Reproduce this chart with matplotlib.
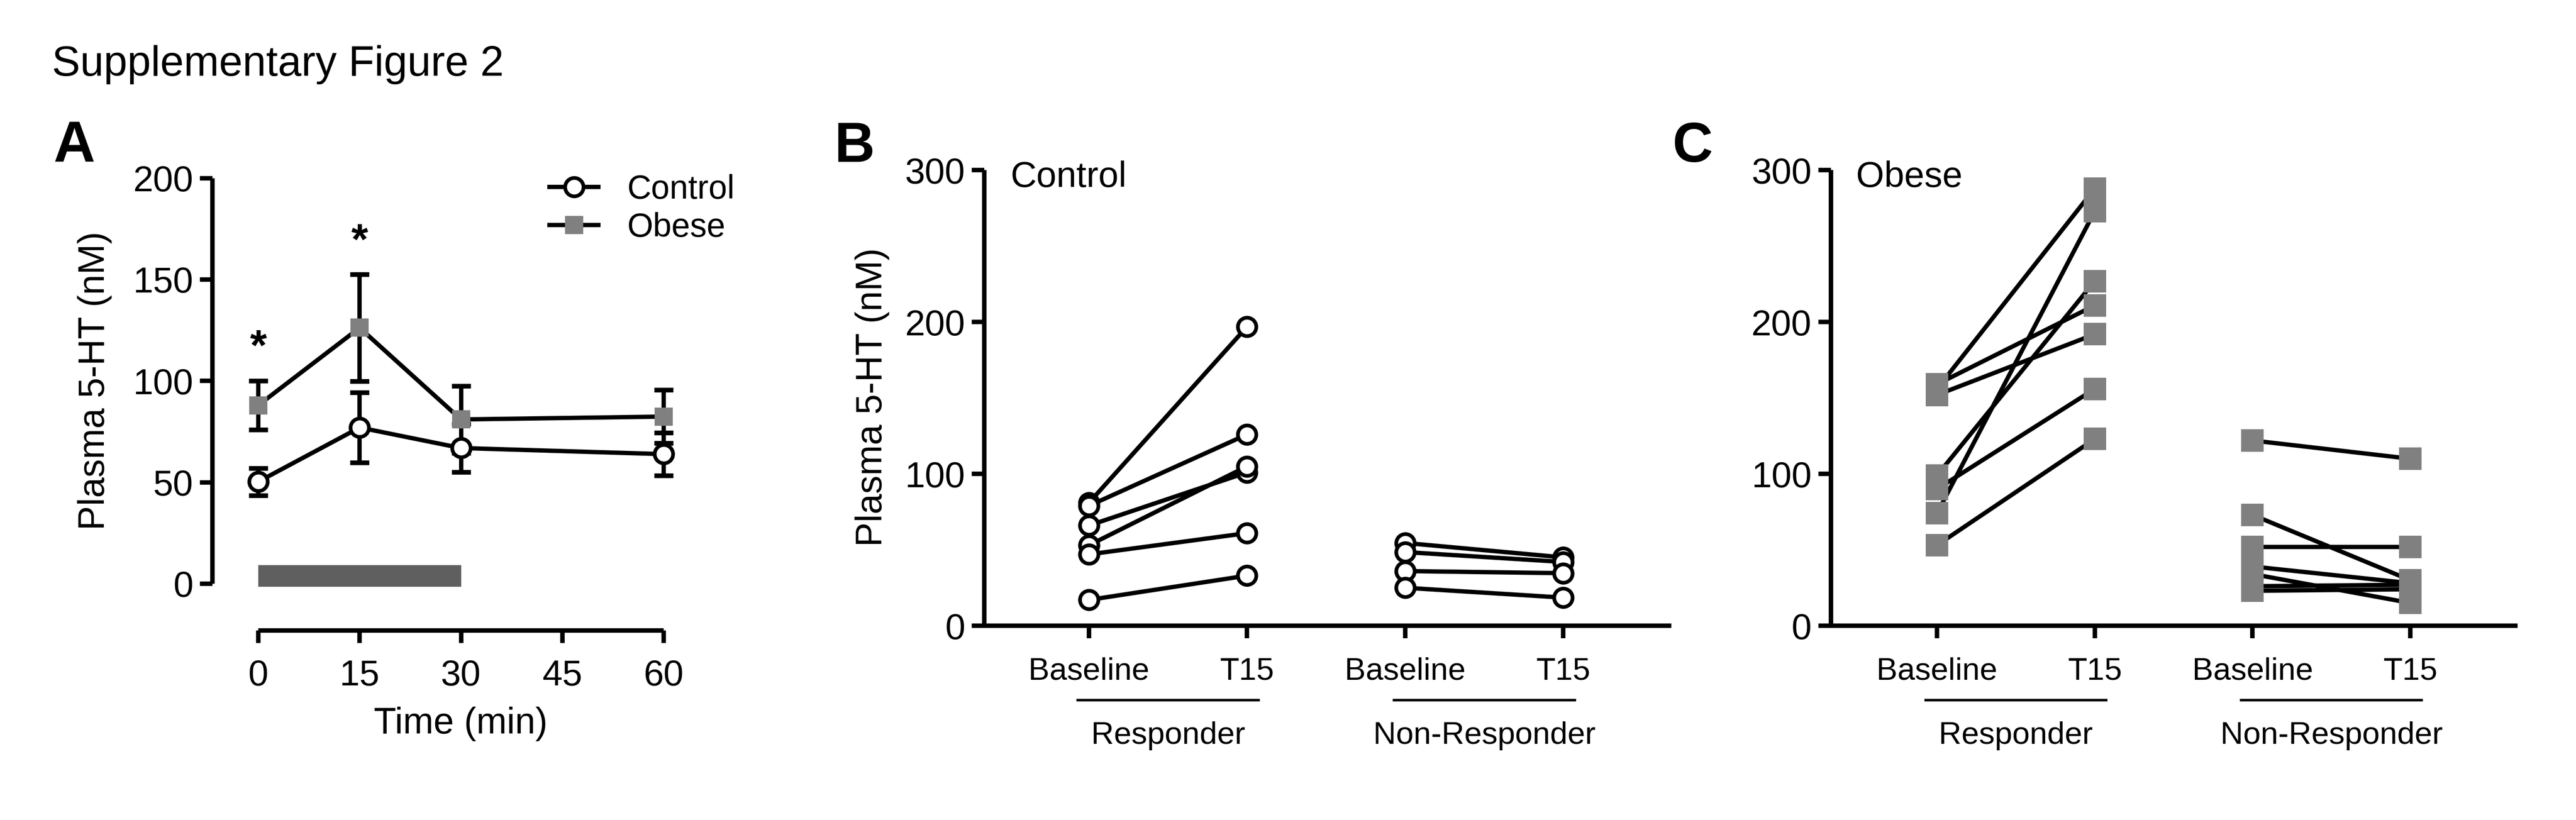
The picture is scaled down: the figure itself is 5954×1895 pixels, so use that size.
import matplotlib
matplotlib.use('Agg')
import matplotlib.pyplot as plt
import numpy as np
from matplotlib.transforms import blended_transform_factory

plt.rcParams['font.family'] = ['Liberation Sans', 'DejaVu Sans']

W, H = 5954, 1895
DPI = 300

# ---------------- data ----------------
# Panel A: time course (mean +/- SEM)
TIME = [0, 15, 30, 60]
CTRL_MEAN = [50.3, 77.0, 66.9, 63.9]
CTRL_SEM = [6.7, 17.3, 11.9, 10.6]
OBESE_MEAN = [88.0, 126.2, 81.0, 82.4]
OBESE_SEM = [12.0, 26.3, 16.6, 13.1]
STAR_TIMES = [0, 15]
STAR_Y = [122.9, 175.0]
STIM_WINDOW = [0, 30]
A_XTICKS = [0, 15, 30, 45, 60]
A_YTICKS = [0, 50, 100, 150, 200]

# Panels B/C: paired individual values
PHASES = ['Baseline', 'T15']
GROUPS = ['Responder', 'Non-Responder']
B_RESP_BASE = [81, 79, 66, 53, 47, 17]
B_RESP_T15 = [197, 126, 101, 105, 61, 33]
B_NONRESP_BASE = [54.5, 48.5, 36, 25]
B_NONRESP_T15 = [45, 42, 34.6, 18.5]
C_RESP_BASE = [156, 159, 152, 99, 74, 90, 53]
C_RESP_T15 = [288, 211, 192, 227, 273, 156, 123]
C_NONRESP_BASE = [122, 73, 52, 39, 34, 26, 23]
C_NONRESP_T15 = [110, 30, 52, 28, 15, 27, 24]
BC_YTICKS = [0, 100, 200, 300]

# ---------------- style ----------------
LW = 2.4
SPW = 2.5
GREY = '#808080'
BAR_GREY = '#5f5f5f'
TICK_FS = 20
LABEL_FS = 20.3
CAT_FS = 17.5


def fx(px):
    return px / W


def fy(py):
    return 1 - py / H


def place_axes(fig, xd0, xp0, xd1, xp1, yd0, yp0, yd1, yp1, xlim, ylim):
    sx = (xp1 - xp0) / (xd1 - xd0)
    sy = (yp1 - yp0) / (yd1 - yd0)
    left = xp0 + (xlim[0] - xd0) * sx
    right = xp0 + (xlim[1] - xd0) * sx
    bottom = yp0 + (ylim[0] - yd0) * sy
    top = yp0 + (ylim[1] - yd0) * sy
    ax = fig.add_axes([left / W, 1 - bottom / H, (right - left) / W, (bottom - top) / H])
    ax.set_xlim(xlim)
    ax.set_ylim(ylim)
    ax.patch.set_alpha(0)
    return ax


def style_axes(ax):
    for s in ['top', 'right']:
        ax.spines[s].set_visible(False)
    for s in ['left', 'bottom']:
        ax.spines[s].set_linewidth(SPW)
        ax.spines[s].set_capstyle('butt')
    ax.tick_params(axis='both', direction='out', length=7, width=SPW, color='black')
    ax.tick_params(axis='y', labelsize=TICK_FS, pad=3.6)


fig = plt.figure(figsize=(W / DPI, H / DPI), dpi=DPI)

# ---------------- Panel A ----------------
axA = place_axes(fig, 0, 597, 60, 1534, 0, 1349, 200, 411.5, (-6.79, 63), (-23.0, 205))
style_axes(axA)
axA.spines['left'].set_bounds(0, 200)
axA.spines['bottom'].set_bounds(0, 60)
axA.set_xticks(A_XTICKS)
axA.set_yticks(A_YTICKS)
axA.tick_params(axis='x', labelsize=TICK_FS, pad=9)

# stimulation period bar (drawn just around y = 0)
axA.bar(STIM_WINDOW[0], 10.6, width=STIM_WINDOW[1] - STIM_WINDOW[0], bottom=-1.4,
        align='edge', color=BAR_GREY, linewidth=0, zorder=1)

axA.errorbar(TIME, CTRL_MEAN, yerr=CTRL_SEM, fmt='none', ecolor='black',
             elinewidth=LW, capsize=5.2, capthick=2.6, zorder=2, clip_on=False)
axA.errorbar(TIME, OBESE_MEAN, yerr=OBESE_SEM, fmt='none', ecolor='black',
             elinewidth=LW, capsize=5.2, capthick=2.6, zorder=2, clip_on=False)
axA.plot(TIME, CTRL_MEAN, color='black', lw=LW, marker='o', ms=10.2, mfc='white',
         mec='black', mew=2.05, zorder=4, label='Control', clip_on=False)
axA.plot(TIME, OBESE_MEAN, color='black', lw=LW, marker='s', ms=10.3, mfc=GREY,
         mec=GREY, mew=0, zorder=5, label='Obese', clip_on=False)

for t, y in zip(STAR_TIMES, STAR_Y):
    axA.annotate('*', xy=(t, y), xytext=(0, -14), textcoords='offset points',
                 ha='center', va='baseline', fontsize=24, fontweight='bold')

leg = axA.legend(loc='center left', bbox_to_anchor=(fx(1270), fy(482.5)),
                 bbox_transform=fig.transFigure, frameon=False, fontsize=18.5,
                 borderpad=0, borderaxespad=0, handlelength=1.47, handletextpad=0.86,
                 labelspacing=0.2, numpoints=1)

axA.set_ylabel('Plasma 5-HT (nM)', fontsize=LABEL_FS, va='center')
axA.yaxis.set_label_coords(fx(219), fy(880), transform=fig.transFigure)
axA.set_xlabel('Time (min)', fontsize=LABEL_FS, va='center')
axA.xaxis.set_label_coords(fx(1065), fy(1673), transform=fig.transFigure)


# ---------------- Panels B and C ----------------
def paired_panel(ax, groups_data, marker_kw):
    style_axes(ax)
    ax.spines['left'].set_bounds(0, 300)
    ax.set_yticks(BC_YTICKS)
    ax.set_xticks(range(2 * len(GROUPS)))
    ax.set_xticklabels(PHASES * len(GROUPS))
    ax.tick_params(axis='x', labelsize=CAT_FS, pad=10.4)
    for g, (base, t15) in enumerate(groups_data):
        x0, x1 = 2 * g, 2 * g + 1
        for b, t in zip(base, t15):
            ax.plot([x0, x1], [b, t], color='black', lw=LW, zorder=2,
                    solid_capstyle='butt', clip_on=False)
        ax.plot(np.full(len(base), x0), base, ls='none', zorder=3, clip_on=False, **marker_kw)
        ax.plot(np.full(len(t15), x1), t15, ls='none', zorder=3, clip_on=False, **marker_kw)
    trans = blended_transform_factory(ax.transData, fig.transFigure)
    for g, name in enumerate(GROUPS):
        x0, x1 = 2 * g, 2 * g + 1
        ax.plot([x0 - 0.08, x1 + 0.08], [fy(1618)] * 2, transform=trans, color='black',
                lw=1.4, clip_on=False, solid_capstyle='butt')
        ax.text((x0 + x1) / 2, fy(1719), name, transform=trans, ha='center',
                va='baseline', fontsize=CAT_FS)


axB = place_axes(fig, 0, 2517, 3, 3613.5, 0, 1446, 300, 393.5, (-0.662, 3.683), (0, 310))
paired_panel(axB, [(B_RESP_BASE, B_RESP_T15), (B_NONRESP_BASE, B_NONRESP_T15)],
             dict(marker='o', ms=10.2, mfc='white', mec='black', mew=2.05))
axB.set_ylabel('Plasma 5-HT (nM)', fontsize=LABEL_FS, va='center')
axB.yaxis.set_label_coords(fx(2016), fy(918), transform=fig.transFigure)

axC = place_axes(fig, 0, 4477, 3, 5571, 0, 1446, 300, 393.5, (-0.673, 3.681), (0, 310))
paired_panel(axC, [(C_RESP_BASE, C_RESP_T15), (C_NONRESP_BASE, C_NONRESP_T15)],
             dict(marker='s', ms=12.5, mfc=GREY, mec=GREY, mew=0))

# ---------------- texts ----------------
fig.text(fx(120), fy(175), 'Supplementary Figure 2', fontsize=23.5, ha='left', va='baseline')
fig.text(fx(124), fy(375), 'A', fontsize=32, fontweight='bold', ha='left', va='baseline')
fig.text(fx(1928), fy(374), 'B', fontsize=31, fontweight='bold', ha='left', va='baseline')
fig.text(fx(3866), fy(374), 'C', fontsize=31, fontweight='bold', ha='left', va='baseline')
fig.text(fx(2336), fy(432), 'Control', fontsize=20, ha='left', va='baseline')
fig.text(fx(4290), fy(432), 'Obese', fontsize=20, ha='left', va='baseline')

fig.savefig('out.png', dpi=DPI, facecolor='white')
